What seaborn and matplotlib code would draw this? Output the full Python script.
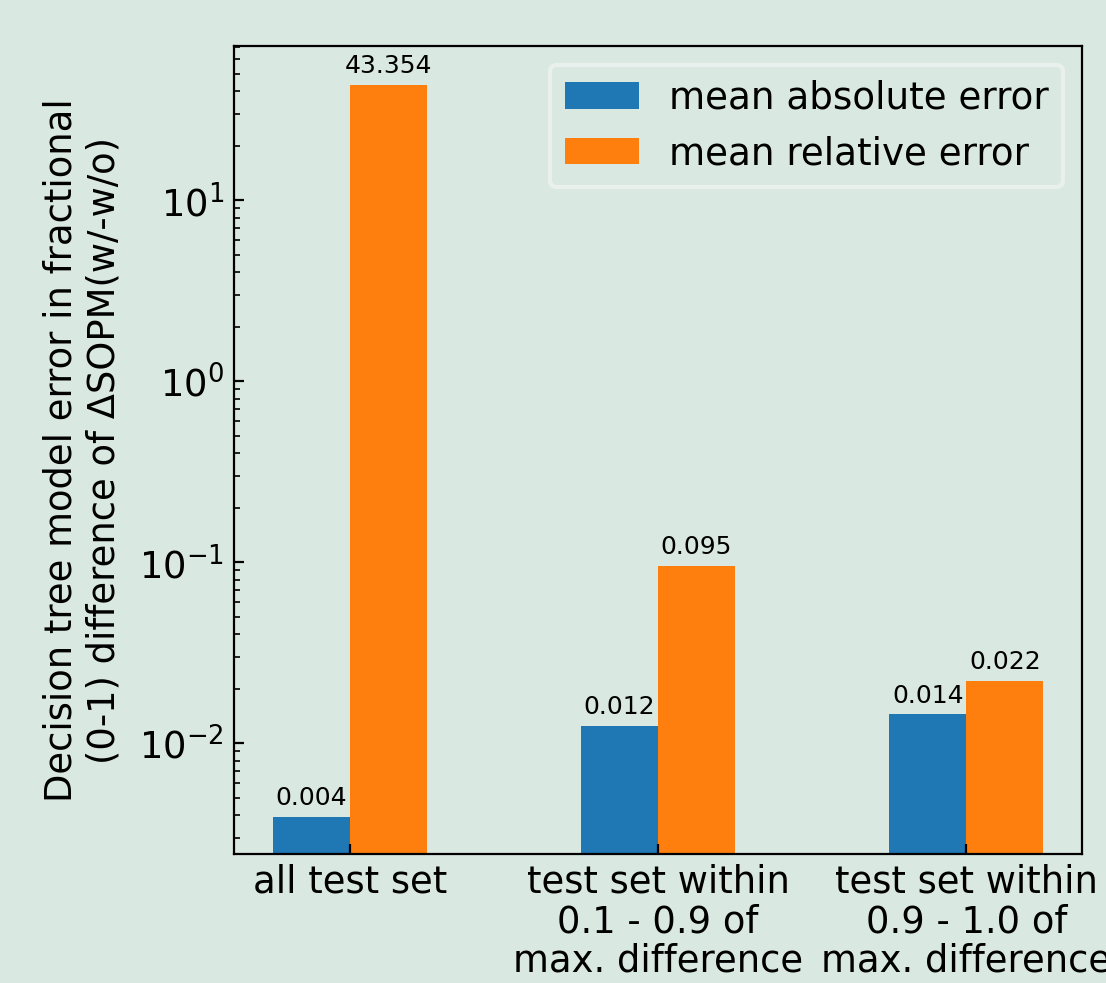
"""Decision tree model error, log-scale grouped bars."""

import matplotlib

matplotlib.use("Agg")
import matplotlib.pyplot as plt
import pandas as pd
import seaborn as sns

BG = "#dae8e2"

groups = [
    "all test set",
    "test set within\n0.1 - 0.9 of\nmax. difference",
    "test set within\n0.9 - 1.0 of\nmax. difference",
]
metrics = ["mean absolute error", "mean relative error"]
mae = [0.0039, 0.0124, 0.0144]
mre = [43.354, 0.095, 0.022]
colors = ["#1f77b4", "#ff7f0e"]


def main() -> None:
    df = pd.DataFrame(
        {
            "group": groups * 2,
            "metric": [metrics[0]] * 3 + [metrics[1]] * 3,
            "value": mae + mre,
        }
    )

    plt.rcParams["font.family"] = "DejaVu Sans"
    plt.rcParams["xtick.direction"] = "in"
    plt.rcParams["ytick.direction"] = "in"

    fig = plt.figure(figsize=(5.53, 4.915), dpi=200, facecolor=BG)
    ax = fig.add_axes([234 / 1106, 1 - 854 / 983, (1082 - 234) / 1106, (854 - 46) / 983])
    ax.set_facecolor(BG)
    ax.set_yscale("log", nonpositive="clip")

    sns.barplot(
        data=df,
        x="group",
        y="value",
        hue="metric",
        palette=colors,
        saturation=1,
        width=0.5,
        linewidth=0,
        ax=ax,
    )

    for c in ax.containers:
        ax.bar_label(c, fmt="%.3f", fontsize=9, padding=2.5)

    ax.set_ylim(0.00244, 71)
    ax.set_xlim(-0.375, 2.375)
    ax.set_xlabel("")
    ax.set_ylabel(
        "Decision tree model error in fractional\n(0-1) difference of ΔSOPM(w/-w/o)",
        fontsize=13.3,
        labelpad=6,
    )
    ax.tick_params(axis="x", labelsize=13.3)
    ax.tick_params(axis="y", labelsize=13.3)
    for lbl in ax.get_xticklabels():
        lbl.set_linespacing(1.08)
    for s in ax.spines.values():
        s.set_color("black")

    handles, labels = ax.get_legend_handles_labels()
    leg = ax.legend(handles, labels, loc="upper right", fontsize=13.4, title=None,
                    facecolor=BG, edgecolor="#eef3f1")
    leg.get_frame().set_linewidth(1.5)

    fig.savefig("out.png", dpi=200, facecolor=BG)
    plt.close(fig)


if __name__ == "__main__":
    main()
